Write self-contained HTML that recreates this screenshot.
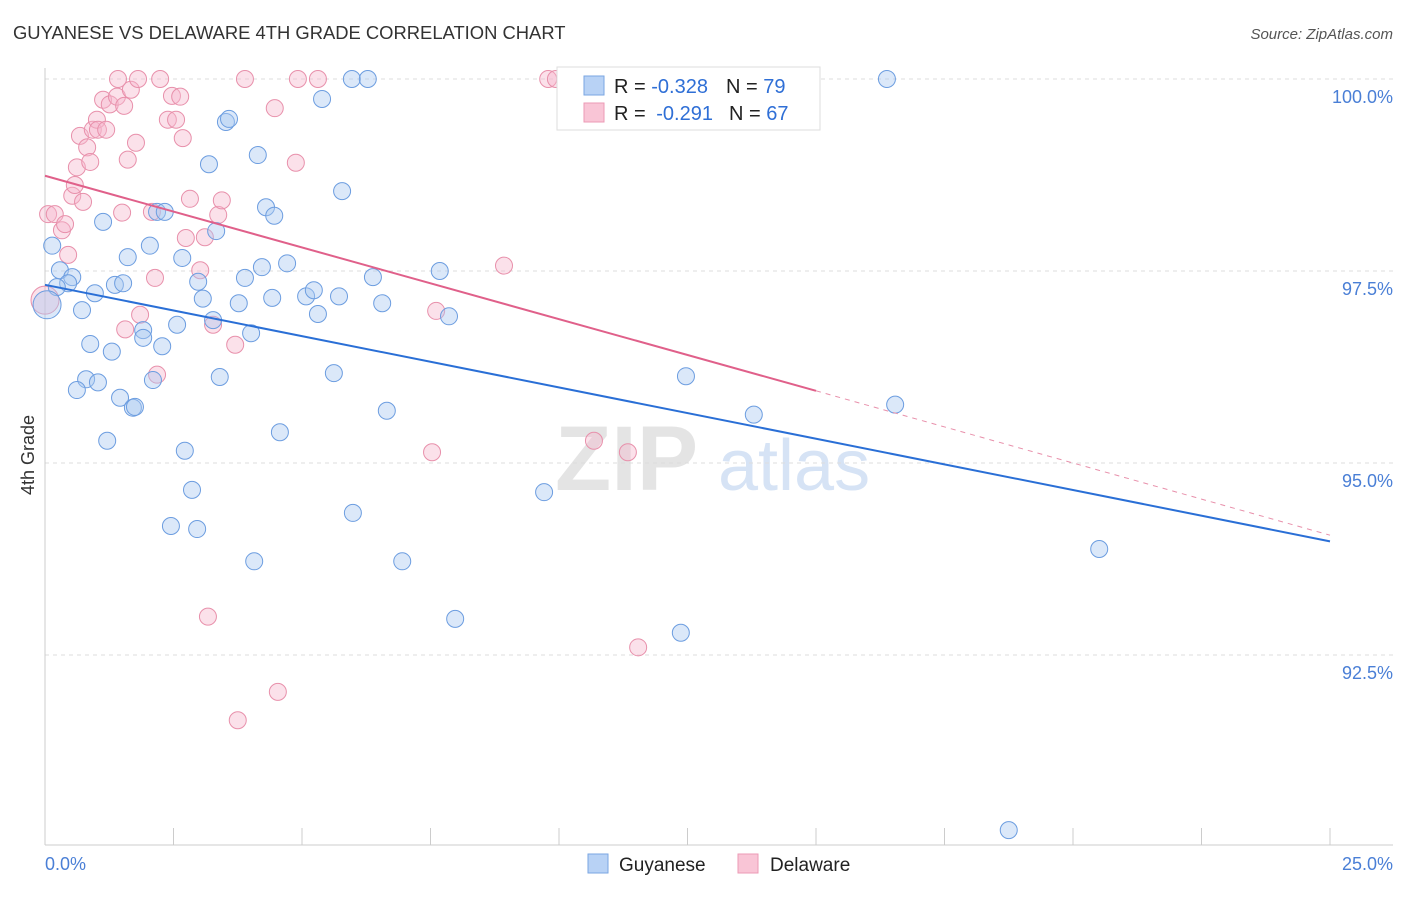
<!DOCTYPE html>
<html><head><meta charset="utf-8"><style>
body{margin:0;background:#fff;font-family:"Liberation Sans",sans-serif;}
svg text{font-family:"Liberation Sans",sans-serif;}
</style></head><body>
<svg id="chart" width="1406" height="892" xmlns="http://www.w3.org/2000/svg">
<text x="13" y="39" font-size="18.4" fill="#333">GUYANESE VS DELAWARE 4TH GRADE CORRELATION CHART</text>
<text x="1393" y="39" font-size="15" fill="#555" font-style="italic" text-anchor="end">Source: ZipAtlas.com</text>
<g>
<text x="555" y="490" font-size="92" fill="#e4e4e4" font-family="Liberation Serif" font-weight="bold">ZIP</text>
<text x="718" y="490" font-size="72" fill="#d6e3f5">atlas</text>
</g>
<g id="grid"></g>
<g id="marks"></g>
<g id="lines"></g>
<text transform="translate(34,455) rotate(-90)" font-size="18" fill="#333" text-anchor="middle">4th Grade</text>
<text x="45" y="870" font-size="18" fill="#4a7fd6">0.0%</text>
<text x="1393" y="870" font-size="18" fill="#4a7fd6" text-anchor="end">25.0%</text>
<g>
<rect x="557" y="67" width="263" height="63" fill="#fff" stroke="#ddd"/>
<rect x="584" y="76" width="20" height="19" fill="#b8d2f5" stroke="#7aa6e2"/>
<rect x="584" y="103" width="20" height="19" fill="#f9c5d6" stroke="#ec9ab5"/>
<text x="614" y="93" font-size="20" fill="#222">R = <tspan fill="#2f6fd6">-0.328</tspan><tspan dx="18">N = </tspan><tspan fill="#2f6fd6">79</tspan></text>
<text x="614" y="120" font-size="20" fill="#222">R = <tspan dx="5" fill="#2f6fd6">-0.291</tspan><tspan dx="16">N = </tspan><tspan fill="#2f6fd6">67</tspan></text>
</g>
<g>
<rect x="588" y="854" width="20" height="19" fill="#b8d2f5" stroke="#7aa6e2"/>
<text x="619" y="871" font-size="19" fill="#222">Guyanese</text>
<rect x="738" y="854" width="20" height="19" fill="#f9c5d6" stroke="#ec9ab5"/>
<text x="770" y="871" font-size="19" fill="#222">Delaware</text>
</g>
</svg>
<script>
const yTicks=[100,97.5,95,92.5];
const yTickLabels=["100.0%","97.5%","95.0%","92.5%"];
const blueX=[.14,.29,.53,.45,.23,.72,.97,1.13,.88,1.30,.80,1.03,.62,1.21,1.61,1.36,1.52,1.46,1.71,1.75,1.91,1.91,2.04,2.10,2.18,2.33,2.28,2.57,2.67,2.72,2.45,2.86,2.96,2.98,3.07,3.19,3.27,3.33,3.40,3.52,3.58,3.77,3.89,4.01,4.07,4.14,4.22,4.30,4.46,4.42,4.57,4.71,5.08,5.23,5.31,5.39,5.62,5.72,5.78,5.97,5.99,6.28,6.38,6.56,6.65,6.95,7.68,7.86,7.98,9.71,12.47,12.37,13.79,16.38,16.54,20.51,18.75,.04];
const blueY=[97.83,97.51,97.42,97.34,97.29,96.99,97.21,98.14,96.55,96.45,96.09,96.05,95.95,95.29,97.68,97.32,97.34,95.85,95.72,95.73,96.73,96.63,97.83,96.08,98.27,98.27,96.52,96.80,97.67,95.16,94.18,94.65,94.14,97.36,97.14,98.89,96.86,98.02,96.12,99.44,99.48,97.08,97.41,96.69,93.72,99.01,97.55,98.33,98.22,97.15,95.40,97.60,97.17,97.25,96.94,99.74,96.17,97.17,98.54,100,94.35,100,97.42,97.08,95.68,93.72,97.50,96.91,92.97,94.62,96.13,92.79,95.63,100,95.76,93.88,90.22,97.06];
const pinkX=[.06,.19,.33,.39,.45,.53,.58,.62,.68,.74,.82,.88,.93,1.01,1.03,1.13,1.19,1.26,1.40,1.54,1.50,1.61,1.67,1.77,1.42,1.81,1.85,1.56,2.14,2.18,2.08,2.24,2.39,2.47,2.63,2.55,2.68,2.74,2.82,3.02,3.11,3.27,3.17,3.37,3.44,3.70,3.75,3.89,4.47,4.53,4.92,4.88,5.31,7.53,7.61,8.93,9.79,9.94,10.68,11.34,11.54,0];
const pinkY=[98.24,98.24,98.03,98.11,97.71,98.48,98.62,98.85,99.26,98.40,99.11,98.92,99.34,99.47,99.34,99.73,99.34,99.67,99.77,99.65,98.26,98.95,99.86,99.17,100,100,96.93,96.74,97.41,96.15,98.27,100,99.47,99.78,99.77,99.47,99.23,97.93,98.44,97.51,97.94,96.80,93.0,98.23,98.42,96.54,91.65,100,99.62,92.02,100,98.91,100,95.14,96.98,97.57,100,100,95.29,95.14,92.60,97.12];
const blueTrend=[[0,97.32],[25,93.98]];
const pinkTrendSolid=[[0,98.74],[15,95.94]];
const pinkTrendDash=[[15,95.94],[25,94.06]];
const NS="http://www.w3.org/2000/svg";
const sx=v=>45+v/25*1285;
const sy=v=>79+(100-v)/2.5*192;
function mk(tag,attrs,parent){const e=document.createElementNS(NS,tag);for(const k in attrs)e.setAttribute(k,attrs[k]);parent.appendChild(e);return e;}
const grid=document.getElementById('grid');
yTicks.forEach((t,i)=>{
  const l=mk('line',{x1:45,x2:1393,y1:sy(t),y2:sy(t),stroke:'#ddd','stroke-dasharray':'4,4'},grid);
  
  
  const tx=mk('text',{x:1393,y:sy(t)+24,'font-size':18,fill:'#4a7fd6','text-anchor':'end'},grid);
  tx.textContent=yTickLabels[i];
  
  
});
const ax=mk('line',{x1:45,x2:1393,y1:845,y2:845,stroke:'#ccc'},grid);


const ay=mk('line',{x1:45,x2:45,y1:68,y2:845,stroke:'#ccc'},grid);


for(let i=0;i<=10;i++){
  const t=mk('line',{x1:sx(i*2.5),x2:sx(i*2.5),y1:828,y2:845,stroke:'#ccc'},grid);
  
  
}
const marks=document.getElementById('marks');
function pts(xs,ys,fill,stroke,name){
  xs.forEach((x,i)=>{
    const big=(i===xs.length-1);
    const c=mk('circle',{cx:sx(x),cy:sy(ys[i]),r:big?14:8.5,fill:fill,'fill-opacity':0.42,stroke:stroke,'stroke-width':1},marks);
    
    
  });
}
pts(pinkX,pinkY,'#f5b8cc','#e890ab','delaware-point');
pts(blueX,blueY,'#aac8f0','#6c9de0','guyanese-point');
const lines=document.getElementById('lines');
function ln(p,color,dash,name,w){
  const l=mk('line',{x1:sx(p[0][0]),y1:sy(p[0][1]),x2:sx(p[1][0]),y2:sy(p[1][1]),stroke:color,'stroke-width':w},lines);
  if(dash)l.setAttribute('stroke-dasharray',dash);
  
  
}
ln(blueTrend,'#2a6fd6',null,'guyanese-trendline',2);
ln(pinkTrendSolid,'#e0608a',null,'delaware-trendline',2);
ln(pinkTrendDash,'#e890ab','5,5','delaware-trendline-extension',1);
</script>
</body></html>
